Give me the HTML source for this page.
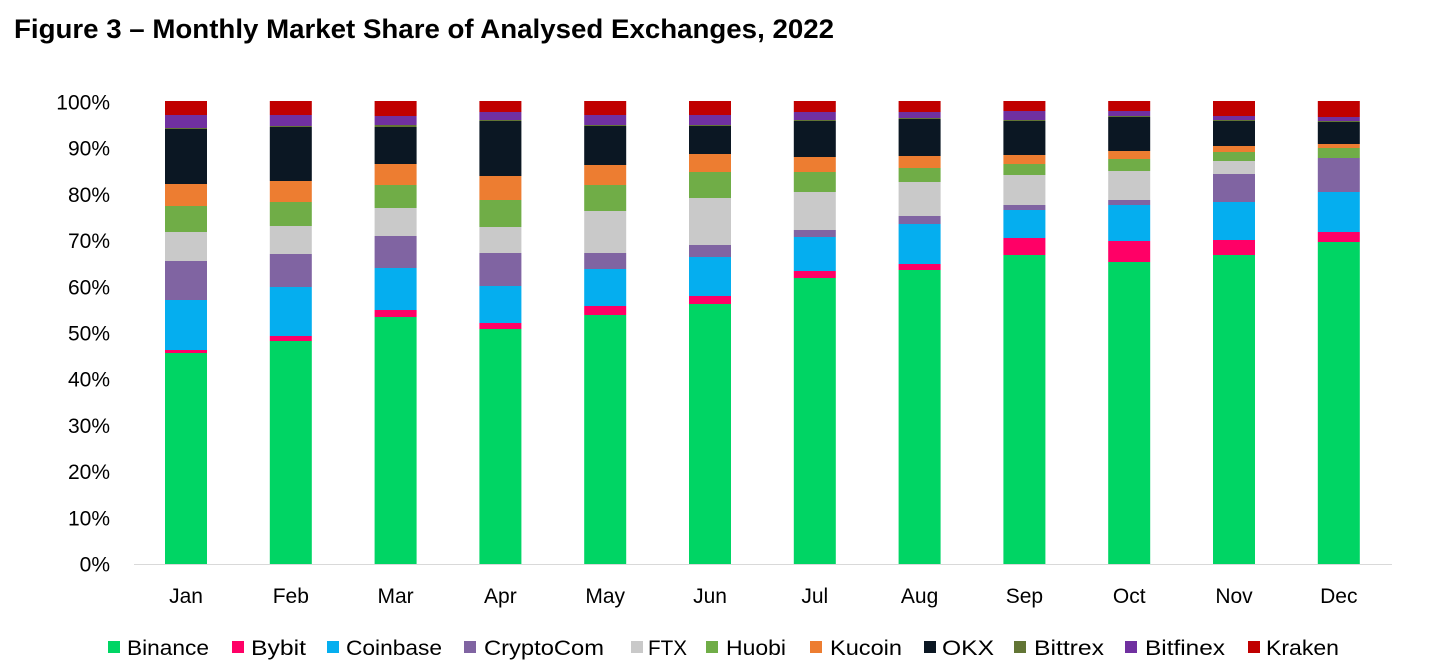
<!DOCTYPE html>
<html><head><meta charset="utf-8">
<style>
html,body{margin:0;padding:0;background:#fff;}
svg{display:block;font-family:"Liberation Sans",sans-serif;}
</style></head>
<body>
<svg id="c" width="1441" height="669" viewBox="0 0 1441 669" xmlns="http://www.w3.org/2000/svg">
<text x="14" y="38" font-size="27" font-weight="bold" fill="#000" textLength="820" lengthAdjust="spacingAndGlyphs">Figure 3 – Monthly Market Share of Analysed Exchanges, 2022</text>
<g id="bars"></g>
<line x1="134" y1="564.5" x2="1392" y2="564.5" stroke="#d9d9d9" stroke-width="1"/>
<g id="axis" font-size="21" fill="#000"></g>
<g id="legend" font-size="21" fill="#000"></g>
</svg>
<script>
var ns="http://www.w3.org/2000/svg";
var colors=["#00d564","#ff0066","#05aeef","#8064a2","#c9c9c9","#70ad47","#ed7d31","#0b1723","#627535","#7030a0","#c00000"];
var names=["Binance","Bybit","Coinbase","CryptoCom","FTX","Huobi","Kucoin","OKX","Bittrex","Bitfinex","Kraken"];
var tops=[
[353,350,300,261,232,206,184,129,128,115,101],
[341,336,287,254,226,202,181,127,126,115,101],
[317,310,268,236,208,185,164,127,125,116,101],
[329,323,286,253,227,200,176,121,120,112,101],
[315,306,269,253,211,185,165,126,125,115,101],
[304,296,257,245,198,172,154,126,125,115,101],
[278,271,237,230,192,172,157,121,120,112,101],
[270,264,224,216,182,168,156,119,118,112,101],
[255,238,210,205,175,164,155,121,120,111,101],
[262,241,205,200,171,159,151,117,116,111,101],
[255,240,202,174,161,152,146,121,120,116,101],
[242,232,192,158,158,148,144,122,121,117,101]];
var months=["Jan","Feb","Mar","Apr","May","Jun","Jul","Aug","Sep","Oct","Nov","Dec"];
var bars=document.getElementById("bars"),axis=document.getElementById("axis"),lg=document.getElementById("legend");
function el(t,a,p,txt){var e=document.createElementNS(ns,t);for(var k in a)e.setAttribute(k,a[k]);if(txt)e.textContent=txt;p.appendChild(e);return e;}
for(var m=0;m<12;m++){
  var cx=186+m*104.8,x=cx-21,prev=564;
  for(var s=0;s<11;s++){
    var t=tops[m][s];
    if(prev-t>0) el("rect",{x:x,y:t,width:42,height:prev-t,fill:colors[s]},bars);
    prev=t;
  }
  el("text",{x:cx,y:603,"text-anchor":"middle"},axis,months[m]);
}
for(var i=0;i<=10;i++){
  var y=564-i*46.2;
  el("text",{x:110,y:y+7.5,"text-anchor":"end"},axis,(i*10)+"%");
}
var sq=[108,232,327,464,631,706,810,924,1014,1125,1248];
var tx=[127,251,346,484,648,726,830,942,1034,1145,1266];
var tw=[82,55,96,120,39,60,72,52,70,80,73];
for(var i=0;i<11;i++){
  el("rect",{x:sq[i],y:641,width:12,height:12,fill:colors[i]},lg);
  el("text",{x:tx[i],y:655,textLength:tw[i],lengthAdjust:"spacingAndGlyphs"},lg,names[i]);
}
</script>
</body></html>
